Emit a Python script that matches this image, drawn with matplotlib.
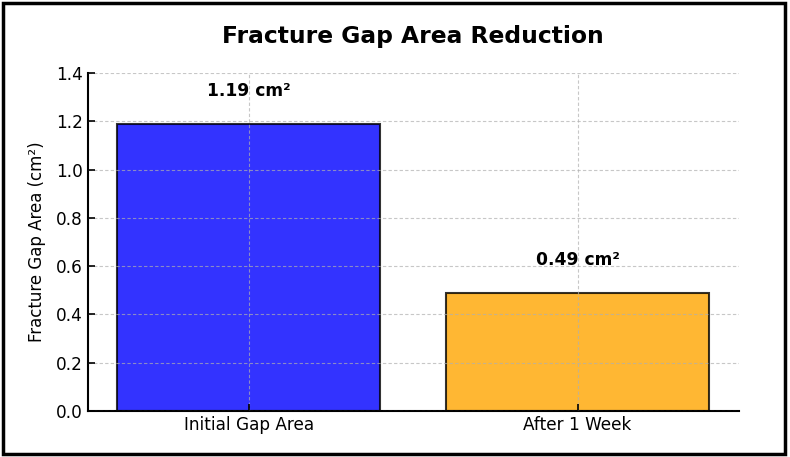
import matplotlib
matplotlib.use("Agg")
import matplotlib.pyplot as plt
from matplotlib.patches import Rectangle

plt.rcParams["font.family"] = ["DejaVu Sans"]

categories = ["Initial Gap Area", "After 1 Week"]
values = [1.19, 0.49]
labels = ["1.19 cm²", "0.49 cm²"]
colors = ["blue", "orange"]

fig = plt.figure(figsize=(7.9, 4.57), dpi=100)
ax = fig.add_axes([0.111, 0.1007, 0.824, 0.7393])

ax.bar(categories, values, width=0.8, color=colors, alpha=0.8,
       edgecolor="black", linewidth=1.5, zorder=2)
for i, (v, lab) in enumerate(zip(values, labels)):
    ax.text(i, v + 0.1, lab, ha="center", va="bottom", fontsize=12.3,
            fontweight="bold", zorder=4)

ax.set_ylim(0, 1.4)
ax.set_xlim(-0.49, 1.49)
ax.grid(True, linestyle="--", color="#b0b0b0", alpha=0.7, linewidth=0.8,
        dashes=(3, 2), zorder=3)
ax.set_axisbelow(False)
for s in ["top", "right"]:
    ax.spines[s].set_visible(False)
ax.spines["left"].set_linewidth(1.5)
ax.spines["bottom"].set_linewidth(1.5)
ax.tick_params(direction="in", length=5, width=1.2, labelsize=12.2)
ax.set_ylabel("Fracture Gap Area (cm²)", fontsize=12, labelpad=7)
ax.set_title("Fracture Gap Area Reduction", fontsize=16.8, fontweight="bold", pad=22)

fig.patches.append(Rectangle((0.004, 0.006), 0.99, 0.987, transform=fig.transFigure,
                             fill=False, edgecolor="black", linewidth=2.5))

fig.savefig("out.png", dpi=100)
